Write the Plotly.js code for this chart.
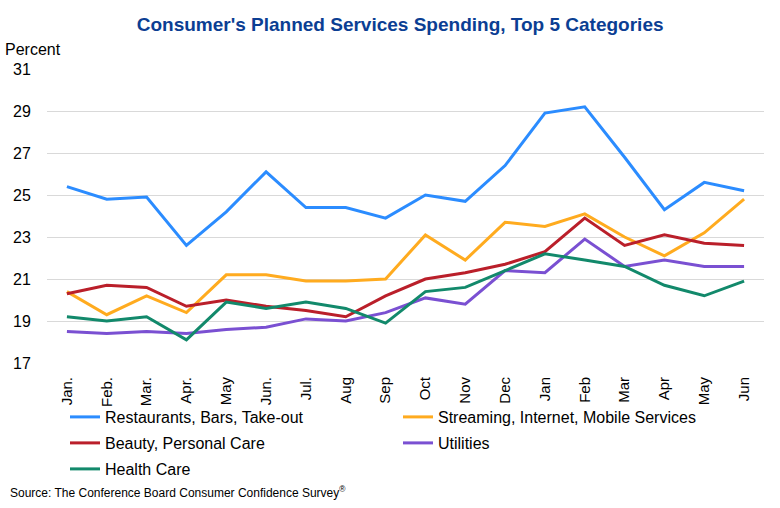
<!DOCTYPE html>
<html>
<head>
<meta charset="utf-8">
<script src="https://cdn.plot.ly/plotly-3.0.1.min.js"></script>
<style>
  html, body { margin: 0; padding: 0; background: #ffffff; }
  #chart { width: 780px; height: 508px; }
</style>
</head>
<body>
<div id="chart"></div>
<script>
// Month labels (two consecutive years, Jan through Jun of the second)
const months = ['Jan.', 'Feb.', 'Mar.', 'Apr.', 'May', 'Jun.', 'Jul.', 'Aug', 'Sep',
                'Oct', 'Nov', 'Dec', 'Jan', 'Feb', 'Mar', 'Apr', 'May', 'Jun'];

// Share of consumers planning to spend on each service, percent
const restaurants = [25.4, 24.8, 24.9, 22.6, 24.2, 26.1, 24.4, 24.4, 23.9,
                     25.0, 24.7, 26.4, 28.9, 29.2, 26.8, 24.3, 25.6, 25.2];
const streaming   = [20.4, 19.3, 20.2, 19.4, 21.2, 21.2, 20.9, 20.9, 21.0,
                     23.1, 21.9, 23.7, 23.5, 24.1, 23.0, 22.1, 23.2, 24.8];
const beauty      = [20.3, 20.7, 20.6, 19.7, 20.0, 19.7, 19.5, 19.2, 20.2,
                     21.0, 21.3, 21.7, 22.3, 23.9, 22.6, 23.1, 22.7, 22.6];
const utilities   = [18.5, 18.4, 18.5, 18.4, 18.6, 18.7, 19.1, 19.0, 19.4,
                     20.1, 19.8, 21.4, 21.3, 22.9, 21.6, 21.9, 21.6, 21.6];
const healthCare  = [19.2, 19.0, 19.2, 18.1, 19.9, 19.6, 19.9, 19.6, 18.9,
                     20.4, 20.6, 21.4, 22.2, 21.9, 21.6, 20.7, 20.2, 20.9];

const seriesNames = ['Restaurants, Bars, Take-out', 'Streaming, Internet, Mobile Services',
                     'Beauty, Personal Care', 'Utilities', 'Health Care'];
const yTicks = [17, 19, 21, 23, 25, 27, 29, 31];

const idx = months.map((_, i) => i);
const colors = ['#2B8CFF', '#FFAB1F', '#BA1F2A', '#7A50D2', '#12896B'];
const values = [restaurants, streaming, beauty, utilities, healthCare];
// Legend rows: two entries per row, the last entry alone
const legendOf = ['legend', 'legend', 'legend2', 'legend2', 'legend3'];

const traces = values.map((v, k) => ({
  type: 'scatter',
  mode: 'lines',
  x: idx,
  y: v,
  name: seriesNames[k],
  legend: legendOf[k],
  line: { color: colors[k], width: 3 },
  hoverinfo: 'skip'
}));

const font = 'Arial, "Liberation Sans", sans-serif';

function legendRow(topPx) {
  return {
    orientation: 'h',
    xref: 'container',
    yref: 'container',
    x: 65 / 780,
    xanchor: 'left',
    y: 1 - topPx / 508,
    yanchor: 'top',
    entrywidth: 288,
    entrywidthmode: 'pixels',
    traceorder: 'normal',
    font: { family: font, size: 16, color: '#000000' },
    bgcolor: 'rgba(0,0,0,0)'
  };
}

const layout = {
  width: 780,
  height: 508,
  paper_bgcolor: '#ffffff',
  plot_bgcolor: '#ffffff',
  margin: { l: 47, r: 16, t: 69.3, b: 144.7, pad: 0 },
  font: { family: font, color: '#000000' },
  title: {
    text: "<b>Consumer's Planned Services Spending, Top 5 Categories</b>",
    font: { family: font, size: 19, color: '#0B3E93' },
    x: 0.513,
    xanchor: 'center',
    y: 0.952,
    yanchor: 'middle'
  },
  xaxis: {
    range: [-0.5, 17.5],
    tickmode: 'array',
    tickvals: idx,
    ticktext: months,
    tickangle: -90,
    tickfont: { family: font, size: 15, color: '#000000' },
    ticks: 'outside',
    ticklen: 7,
    tickcolor: 'rgba(0,0,0,0)',
    showgrid: false,
    showline: false,
    zeroline: false,
    fixedrange: true
  },
  yaxis: {
    range: [17, 31],
    tickmode: 'array',
    tickvals: yTicks,
    ticktext: yTicks.map(String),
    tickfont: { family: font, size: 16, color: '#000000' },
    ticks: 'outside',
    ticklen: 12,
    tickcolor: 'rgba(0,0,0,0)',
    showgrid: true,
    gridcolor: '#D9D9D9',
    gridwidth: 1,
    showline: false,
    zeroline: false,
    fixedrange: true
  },
  showlegend: true,
  legend: legendRow(400),
  legend2: legendRow(426),
  legend3: legendRow(452),
  annotations: [
    {
      text: 'Percent',
      xref: 'paper', yref: 'paper',
      x: (3 - 47) / 717, xanchor: 'left',
      y: 1 + (69.3 - 50) / 294, yanchor: 'middle',
      showarrow: false,
      font: { family: font, size: 16, color: '#000000' }
    },
    {
      text: 'Source: The Conference Board Consumer Confidence Survey<sup>®</sup>',
      xref: 'paper', yref: 'paper',
      x: (8 - 47) / 717, xanchor: 'left',
      y: (363.3 - 492) / 294, yanchor: 'middle',
      showarrow: false,
      font: { family: font, size: 12, color: '#000000' }
    }
  ]
};

Plotly.newPlot('chart', traces, layout, { displayModeBar: false, staticPlot: true });
</script>
</body>
</html>
